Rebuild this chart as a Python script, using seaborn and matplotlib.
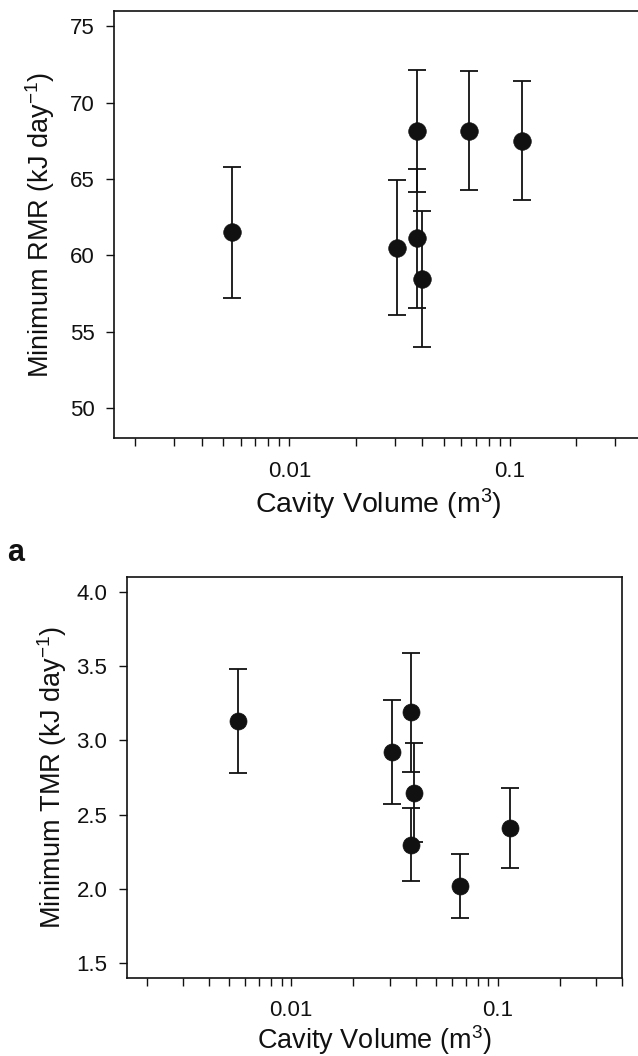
import matplotlib
matplotlib.use("Agg")
import matplotlib.pyplot as plt
import matplotlib.ticker as mticker
import seaborn as sns
import pandas as pd
import numpy as np

# ---- data ----
volume = [0.0055, 0.0307, 0.0380, 0.0380, 0.0400, 0.0655, 0.1140]
volume_tmr = [0.0055, 0.0307, 0.0380, 0.0380, 0.0395, 0.0655, 0.1140]
rmr = [61.5, 60.5, 68.15, 61.1, 58.45, 68.15, 67.5]
rmr_err = [4.3, 4.4, 4.0, 4.55, 4.45, 3.9, 3.9]
tmr = [3.13, 2.92, 3.19, 2.30, 2.65, 2.02, 2.41]
tmr_err = [0.35, 0.35, 0.40, 0.245, 0.33, 0.216, 0.27]

rmr_yticks = [50, 55, 60, 65, 70, 75]
tmr_yticks = [1.5, 2.0, 2.5, 3.0, 3.5, 4.0]

df_r = pd.DataFrame({"vol": volume, "val": rmr, "err": rmr_err})
df_t = pd.DataFrame({"vol": volume_tmr, "val": tmr, "err": tmr_err})

sns.set_style("ticks")
plt.rcParams["font.family"] = ["Liberation Sans", "DejaVu Sans"]
plt.rcParams["mathtext.default"] = "regular"

INK = "#111111"
fig = plt.figure(figsize=(6.38, 10.56), dpi=100)

ax1 = fig.add_axes([0.1787, 0.5849, 0.8285, 0.4046])
ax2 = fig.add_axes([0.1986, 0.0743, 0.7768, 0.3793])


def draw(ax, df, ylim, yticks, yfmt, ylabel, size, fs, ylpad, xlpad):
    ax.errorbar(df["vol"], df["val"], yerr=df["err"], fmt="none", ecolor=INK,
                elinewidth=1.3, capsize=6.4, capthick=1.3, zorder=2)
    sns.scatterplot(data=df, x="vol", y="val", ax=ax, s=size, color=INK,
                    edgecolor=INK, linewidth=0.5, zorder=3, legend=False)
    ax.set_xscale("log")
    ax.set_xlim(0.0016, 0.4)
    ax.set_ylim(*ylim)
    ax.set_yticks(yticks)
    ax.yaxis.set_major_formatter(mticker.FormatStrFormatter(yfmt))
    ax.xaxis.set_major_locator(mticker.FixedLocator([0.01, 0.1]))
    ax.xaxis.set_major_formatter(mticker.FixedFormatter(["0.01", "0.1"]))
    ax.xaxis.set_minor_locator(mticker.LogLocator(base=10, subs=np.arange(2, 10), numticks=20))
    ax.xaxis.set_minor_formatter(mticker.NullFormatter())
    for sp in ax.spines.values():
        sp.set_visible(True)
        sp.set_linewidth(1.2)
        sp.set_color(INK)
    ax.tick_params(axis="both", which="major", direction="out", length=6, width=1.0,
                   labelsize=16, colors=INK)
    ax.tick_params(axis="x", which="major", pad=10)
    ax.tick_params(axis="y", which="major", pad=8)
    ax.tick_params(axis="x", which="minor", direction="out", length=6, width=1.0, colors=INK)
    ax.tick_params(axis="y", which="minor", left=False)
    ax.set_xlabel("Cavity Volume (m$^{3}$)", fontsize=fs, labelpad=xlpad, color=INK)
    ax.set_ylabel(ylabel, fontsize=19.5, labelpad=ylpad, color=INK)


draw(ax1, df_r, (48, 76), rmr_yticks, "%d", "Minimum RMR (kJ day$^{-1}$)", 160, 20.5, 9.5, 4)
draw(ax2, df_t, (1.405, 4.1), tmr_yticks, "%.1f", "Minimum TMR (kJ day$^{-1}$)", 150, 19.5, 5, 1.5)

fig.text(0.011, 0.4763, "a", fontsize=22, fontweight="bold", color=INK, va="center", ha="left")

fig.savefig("out.png", dpi=100)
